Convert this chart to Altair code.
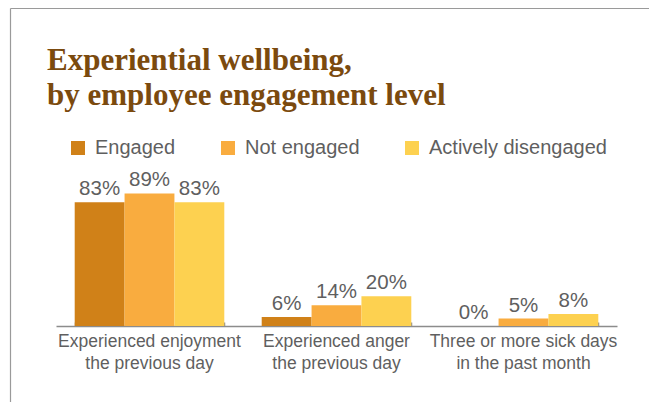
import altair as alt
import pandas as pd

categories = [
    "Experienced enjoyment|the previous day",
    "Experienced anger|the previous day",
    "Three or more sick days|in the past month",
]
series = ["Engaged", "Not engaged", "Actively disengaged"]
engaged = [83, 6, 0]
not_engaged = [89, 14, 5]
actively_disengaged = [83, 20, 8]
colors = ["#D08118", "#F9AC3F", "#FDD150"]

rows = []
for i, c in enumerate(categories):
    for s, vals in zip(series, [engaged, not_engaged, actively_disengaged]):
        rows.append({"category": c, "group": s, "value": vals[i], "label": f"{vals[i]}%"})
df = pd.DataFrame(rows)

W, H = 561, 149
TEXT = "#5f5f5f"
AX = "#8c8c8c"

xscale = alt.Scale(paddingInner=0.2, paddingOuter=0.1)
yscale = alt.Scale(domain=[0, 100])
offs = alt.XOffset("group:N", sort=series, scale=alt.Scale(paddingInner=0, paddingOuter=0))

bars = alt.Chart(df).mark_bar().encode(
    x=alt.X("category:N", sort=categories, title=None, scale=xscale,
            axis=alt.Axis(labelExpr="split(datum.label, '|')", labelAngle=0,
                          labelFontSize=17.5, labelFont="Liberation Sans", labelColor=TEXT,
                          labelLineHeight=22, labelPadding=6.5, labelLimit=0, ticks=False,
                          domain=True, domainColor=AX, domainWidth=1.5, grid=False)),
    xOffset=offs,
    y=alt.Y("value:Q", scale=yscale, axis=None),
    color=alt.Color("group:N", sort=series, scale=alt.Scale(domain=series, range=colors),
                    legend=alt.Legend(orient="none", legendX=12, legendY=-39,
                                      direction="horizontal", columns=3, columnPadding=42,
                                      symbolType="square", symbolSize=196, symbolStrokeWidth=0,
                                      labelFontSize=20, labelFont="Liberation Sans",
                                      labelColor=TEXT, labelOffset=7, labelLimit=0,
                                      title=None, padding=0)),
)

labels = alt.Chart(df).mark_text(dy=-7, baseline="alphabetic", fontSize=20.5,
                                 font="Liberation Sans", color=TEXT).encode(
    x=alt.X("category:N", sort=categories, title=None, scale=xscale,
            axis=alt.Axis(orient="top", offset=-H, labels=False, domain=False, ticks=True,
                          tickSize=4, tickColor=AX, tickWidth=1.5, tickBand="extent",
                          grid=False)),
    xOffset=offs,
    y=alt.Y("value:Q", scale=yscale, axis=None),
    text="label:N",
)

border_left = alt.Chart(alt.Data(values=[{}])).mark_rule(color="#9a9a9a", strokeWidth=1.2).encode(
    x=alt.value(-45.5), y=alt.value(-168.5), y2=alt.value(226))
border_top = alt.Chart(alt.Data(values=[{}])).mark_rule(color="#9a9a9a", strokeWidth=1.2).encode(
    x=alt.value(-45.5), x2=alt.value(594), y=alt.value(-168.5))

chart = alt.layer(bars, labels, border_left, border_top).resolve_axis(x="independent").properties(
    width=W, height=H,
    autosize=alt.AutoSizeParams(type="none"),
    padding={"left": 48, "top": 169, "right": 32, "bottom": 76},
    background="white",
    title=alt.TitleParams(text=["Experiential wellbeing,", "by employee engagement level"],
                          anchor="start", frame="group", font="Liberation Serif", fontSize=31,
                          fontWeight="bold", color="#7B4A0E", dx=-9, offset=-127.6,
                          baseline="alphabetic", lineHeight=35),
).configure_view(stroke=None)

chart.save("out.html", embed_options={"renderer": "svg", "actions": False})
